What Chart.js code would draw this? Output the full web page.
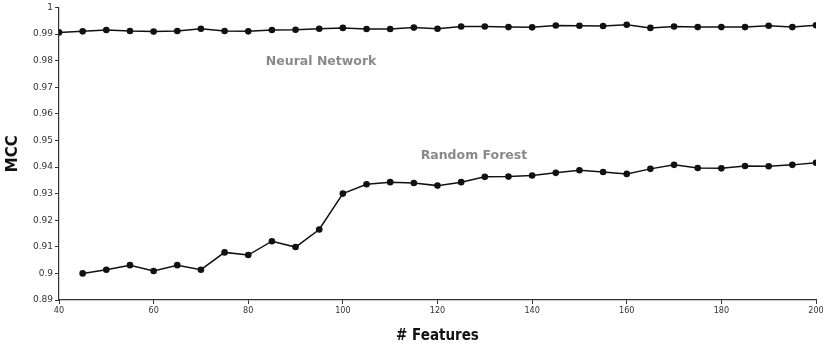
<!DOCTYPE html>
<html>
<head>
<meta charset="utf-8">
<script src="https://cdn.jsdelivr.net/npm/chart.js@4/dist/chart.umd.min.js"></script>
<style>
  html, body { margin: 0; padding: 0; background: #fff; }
  #wrap { width: 827px; height: 349px; position: relative; }
</style>
</head>
<body>
<div id="wrap"><canvas id="chart1"></canvas></div>
<script>
// 특징 개수 (x축)
const nnFeatures = [40, 45, 50, 55, 60, 65, 70, 75, 80, 85, 90, 95, 100, 105, 110, 115, 120,
  125, 130, 135, 140, 145, 150, 155, 160, 165, 170, 175, 180, 185, 190, 195, 200];
const rfFeatures = [45, 50, 55, 60, 65, 70, 75, 80, 85, 90, 95, 100, 105, 110, 115, 120,
  125, 130, 135, 140, 145, 150, 155, 160, 165, 170, 175, 180, 185, 190, 195, 200];

// MCC 값
const nnMcc = [0.9906, 0.9910, 0.9915, 0.9911, 0.9909, 0.9911, 0.9920, 0.9911, 0.9910, 0.9915,
  0.9916, 0.9920, 0.9923, 0.9919, 0.9919, 0.9924, 0.9920, 0.9928, 0.9928, 0.9926, 0.9925,
  0.9932, 0.9931, 0.9930, 0.9935, 0.9923, 0.9928, 0.9926, 0.9926, 0.9926, 0.9931, 0.9926, 0.9933];
const rfMcc = [0.9000, 0.9014, 0.9031, 0.9009, 0.9031, 0.9014, 0.9079, 0.9069, 0.9121, 0.9099,
  0.9165, 0.9300, 0.9335, 0.9343, 0.9340, 0.9330, 0.9343, 0.9363, 0.9364, 0.9368, 0.9378,
  0.9388, 0.9381, 0.9374, 0.9393, 0.9408, 0.9396, 0.9395, 0.9404, 0.9403, 0.9408, 0.9416];

// 라벨 위치 (데이터 좌표)
const seriesLabels = [
  { text: 'Neural Network', x: 95.4, y: 0.9797 },
  { text: 'Random Forest', x: 127.7, y: 0.9444 }
];

function toPoints(xs, ys) {
  return xs.map((x, i) => ({ x: x, y: ys[i] }));
}

// 시리즈 이름을 그래프 안에 그리는 플러그인
const labelPlugin = {
  id: 'seriesLabels',
  afterDatasetsDraw(chart) {
    const ctx = chart.ctx;
    const xs = chart.scales.x, ys = chart.scales.y;
    ctx.save();
    ctx.font = 'bold 12.5px "DejaVu Sans"';
    ctx.fillStyle = '#8a8a8a';
    ctx.textAlign = 'center';
    ctx.textBaseline = 'middle';
    seriesLabels.forEach(l => {
      ctx.fillText(l.text, xs.getPixelForValue(l.x), ys.getPixelForValue(l.y));
    });
    ctx.restore();
  }
};

const pointStyle = {
  borderColor: '#111',
  backgroundColor: '#111',
  borderWidth: 1.5,
  pointRadius: 3.3,
  pointBackgroundColor: '#111',
  pointBorderWidth: 0,
  tension: 0
};

new Chart(document.getElementById('chart1'), {
  type: 'line',
  data: {
    datasets: [
      Object.assign({ label: 'Neural Network', data: toPoints(nnFeatures, nnMcc) }, pointStyle),
      Object.assign({ label: 'Random Forest', data: toPoints(rfFeatures, rfMcc) }, pointStyle)
    ]
  },
  options: {
    responsive: true,
    maintainAspectRatio: false,
    animation: false,
    layout: { padding: { top: 7, right: 11, left: 0, bottom: 0 } },
    plugins: {
      legend: { display: false },
      tooltip: { enabled: false }
    },
    scales: {
      x: {
        type: 'linear',
        min: 40,
        max: 200,
        grid: { display: true, drawOnChartArea: false, drawTicks: true, tickLength: 4, color: '#333' },
        border: { color: '#333', width: 1.2 },
        ticks: { stepSize: 20, color: '#333', font: { family: 'DejaVu Sans Condensed', size: 9 }, padding: 1, maxRotation: 0 },
        title: { display: true, text: '# Features', color: '#111', font: { family: 'DejaVu Sans Condensed', size: 15, weight: 'bold' }, padding: { top: 14 } },
        afterFit(scale) { scale.height = 49; }
      },
      y: {
        min: 0.89,
        max: 1,
        grid: { display: true, drawOnChartArea: false, drawTicks: true, tickLength: 4, color: '#333' },
        border: { color: '#333', width: 1.2 },
        ticks: {
          stepSize: 0.01,
          color: '#333',
          font: { family: 'DejaVu Sans', size: 9 },
          padding: 2,
          callback: v => String(Math.round(v * 100) / 100)
        },
        title: { display: true, text: 'MCC', color: '#111', font: { family: 'DejaVu Sans', size: 15, weight: 'bold' }, padding: { bottom: 8 } },
        afterFit(scale) { scale.width = 59; }
      }
    }
  },
  plugins: [labelPlugin]
});
</script>
</body>
</html>
